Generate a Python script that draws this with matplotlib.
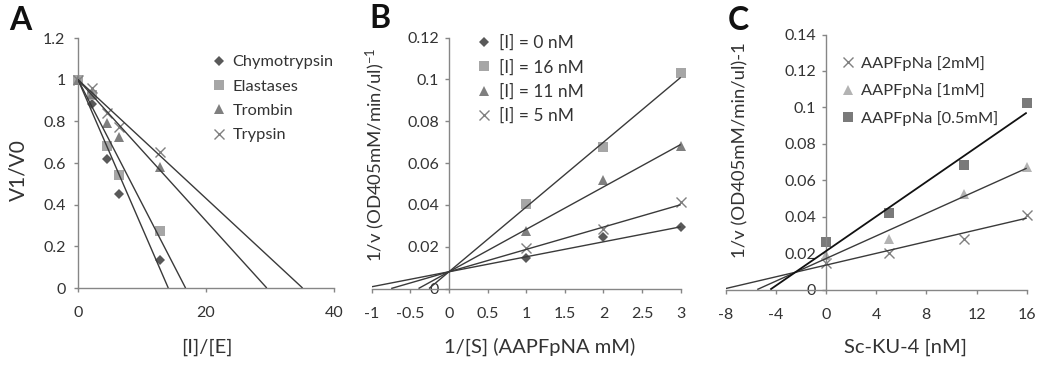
import matplotlib
matplotlib.use('Agg')
import matplotlib.pyplot as plt
from matplotlib.ticker import FuncFormatter, MultipleLocator

plt.rcParams['font.family'] = ['Lato', 'DejaVu Sans']
plt.rcParams['mathtext.default'] = 'regular'

# ---------------- Panel A data ----------------
a_x = [0, 2.2, 4.5, 6.4, 12.8]
a_chymo = [1.0, 0.884, 0.617, 0.45, 0.135]
a_elast = [1.0, 0.927, 0.681, 0.543, 0.276]
a_tromb = [1.0, 0.93, 0.794, 0.723, 0.58]
a_tryps = [1.0, 0.959, 0.839, 0.774, 0.654]
a_names = ['Chymotrypsin', 'Elastases', 'Trombin', 'Trypsin']
a_fit_slope = [-0.0709, -0.0595, -0.0339, -0.0285]
a_fit_icpt = [1.0, 1.0, 1.0, 1.0]

# ---------------- Panel B data ----------------
b_x = [1, 2, 3]
b_i0 = [0.0144, 0.0247, 0.0295]
b_i16 = [0.0404, 0.0676, 0.1029]
b_i11 = [0.0276, 0.0519, 0.0681]
b_i5 = [0.0195, 0.0284, 0.0415]
b_names = ['[I] = 0 nM', '[I] = 16 nM', '[I] = 11 nM', '[I] = 5 nM']
b_fit_slope = [0.00717, 0.0310, 0.0203, 0.0107]
b_fit_icpt = [0.008, 0.008, 0.008, 0.008]

# ---------------- Panel C data ----------------
c_x = [0, 5, 11, 16]
c_s2 = [0.0146, 0.0201, 0.0277, 0.0411]
c_s1 = [0.0192, 0.0277, 0.0526, 0.0675]
c_s05 = [0.0261, 0.042, 0.0681, 0.1022]
c_names = ['AAPFpNa [2mM]', 'AAPFpNa [1mM]', 'AAPFpNa [0.5mM]']
c_fit_slope = [0.00161, 0.0031, 0.00475]
c_fit_icpt = [0.0134, 0.0170, 0.0211]

W, H = 1037, 367
fig = plt.figure(figsize=(W / 100, H / 100), dpi=100)

SPINE = '#868686'
TXT = '#333333'
LINE = '#3a3a3a'
TICKFS = 11.5


def px_axes(l, r, t, b):
    return fig.add_axes([l / W, 1 - b / H, (r - l) / W, (b - t) / H])


def style(ax, ypad, xpad):
    for s in ['top', 'right']:
        ax.spines[s].set_visible(False)
    for s in ['left', 'bottom']:
        ax.spines[s].set_color(SPINE)
        ax.spines[s].set_linewidth(1.0)
    ax.tick_params(axis='both', direction='out', length=3, width=1.0,
                   color=SPINE, labelcolor=TXT, labelsize=TICKFS)
    ax.tick_params(axis='y', pad=ypad)
    ax.tick_params(axis='x', pad=xpad)
    ax.xaxis.set_major_formatter(FuncFormatter(lambda v, p: f'{v:g}'))
    ax.yaxis.set_major_formatter(FuncFormatter(lambda v, p: f'{v:g}'))


def fit_line(ax, slope, icpt, xlo, xhi, color=LINE, lw=1.0):
    x0 = max(xlo, -icpt / slope) if slope > 0 else xlo
    x1 = xhi if slope > 0 else -icpt / slope
    ax.plot([x0, x1], [icpt + slope * x0, icpt + slope * x1],
            color=color, lw=lw, zorder=3, solid_capstyle='butt')


def add_legend(ax, handles, x, y, fs, spacing):
    ax.legend(handles=handles, loc='upper left',
              bbox_to_anchor=(x / W, 1 - y / H),
              bbox_transform=fig.transFigure, frameon=False, fontsize=fs,
              handlelength=0.8, handletextpad=0.45, labelspacing=spacing,
              borderpad=0, borderaxespad=0, labelcolor=TXT)


# ---------------- Panel A ----------------
axA = px_axes(78, 334, 38, 288)
style(axA, 6, 10)
axA.set_xlim(0, 40)
axA.set_ylim(0, 1.2)
axA.xaxis.set_major_locator(MultipleLocator(20))
axA.yaxis.set_major_locator(MultipleLocator(0.2))
a_series = [a_chymo, a_elast, a_tromb, a_tryps]
a_mk = [dict(marker='D', color='#595959', ms=5.5, mew=0),
        dict(marker='s', color='#a6a6a6', ms=6.5, mew=0),
        dict(marker='^', color='#7f7f7f', ms=7, mew=0),
        dict(marker='x', color='#808080', ms=7, mew=1.0)]
hA = []
for ys, mk, nm, sl, ic in zip(a_series, a_mk, a_names, a_fit_slope, a_fit_icpt):
    h, = axA.plot(a_x, ys, ls='none', label=nm, zorder=2, clip_on=False, **mk)
    hA.append(h)
    fit_line(axA, sl, ic, 0, 40)
add_legend(axA, hA, 212, 55, 11.8, 0.6)

# ---------------- Panel B ----------------
axB = px_axes(371.7, 680.7, 37.7, 288.5)
style(axB, 4, 10)
axB.set_xlim(-1, 3)
axB.set_ylim(0, 0.12)
axB.spines['left'].set_position(('data', 0))
axB.xaxis.set_major_locator(MultipleLocator(0.5))
axB.yaxis.set_major_locator(MultipleLocator(0.02))
b_series = [b_i0, b_i16, b_i11, b_i5]
b_mk = [dict(marker='D', color='#595959', ms=5.5, mew=0),
        dict(marker='s', color='#a6a6a6', ms=6.5, mew=0),
        dict(marker='^', color='#7f7f7f', ms=7, mew=0),
        dict(marker='x', color='#808080', ms=7, mew=1.0)]
hB = []
for ys, mk, nm, sl, ic in zip(b_series, b_mk, b_names, b_fit_slope, b_fit_icpt):
    h, = axB.plot(b_x, ys, ls='none', label=nm, zorder=2, clip_on=False, **mk)
    hB.append(h)
    fit_line(axB, sl, ic, -1, 3)
add_legend(axB, hB, 477, 35, 12.5, 0.46)

# ---------------- Panel C ----------------
axC = px_axes(725.7, 1026.7, 34.5, 289.5)
style(axC, 4, 10)
axC.set_xlim(-8, 16)
axC.set_ylim(0, 0.14)
axC.spines['left'].set_position(('data', 0))
axC.xaxis.set_major_locator(MultipleLocator(4))
axC.yaxis.set_major_locator(MultipleLocator(0.02))
c_series = [c_s2, c_s1, c_s05]
c_mk = [dict(marker='x', color='#808080', ms=7, mew=1.0),
        dict(marker='^', color='#b3b3b3', ms=7, mew=0),
        dict(marker='s', color='#7a7a7a', ms=6.5, mew=0)]
c_lc = [LINE, LINE, '#111111']
c_lw = [1.0, 1.0, 1.3]
hC = []
for ys, mk, nm, sl, ic, lc, lw in zip(c_series, c_mk, c_names, c_fit_slope,
                                      c_fit_icpt, c_lc, c_lw):
    h, = axC.plot(c_x, ys, ls='none', label=nm, zorder=2, clip_on=False, **mk)
    hC.append(h)
    fit_line(axC, sl, ic, -8, 16, color=lc, lw=lw)
add_legend(axC, hC, 841, 56, 11.8, 0.77)

# ---------------- Labels ----------------
def ftext(x, y, s, **kw):
    fig.text(x / W, 1 - y / H, s, ha='center', va='center', color=TXT, **kw)

ftext(207, 347, '[I]/[E]', fontsize=14.5)
ftext(540, 347, '1/[S] (AAPFpNA mM)', fontsize=14.5)
ftext(906, 347, 'Sc-KU-4 [nM]', fontsize=14.5)
ftext(18, 170, 'V1/V0', fontsize=15, rotation=90)
ftext(375, 155, '1/v (OD405mM/min/ul)$^{-1}$', fontsize=13.3, rotation=90)
ftext(740, 150, '1/v (OD405mM/min/ul)-1', fontsize=13.3, rotation=90)

fig.text(20 / W, 1 - 20 / H, 'A', ha='center', va='center', fontsize=23,
         fontweight='bold', color='#111111')
fig.text(380 / W, 1 - 18 / H, 'B', ha='center', va='center', fontsize=23,
         fontweight='bold', color='#111111')
fig.text(738 / W, 1 - 21 / H, 'C', ha='center', va='center', fontsize=23,
         fontweight='bold', color='#111111')

fig.savefig('out.png', dpi=100)
